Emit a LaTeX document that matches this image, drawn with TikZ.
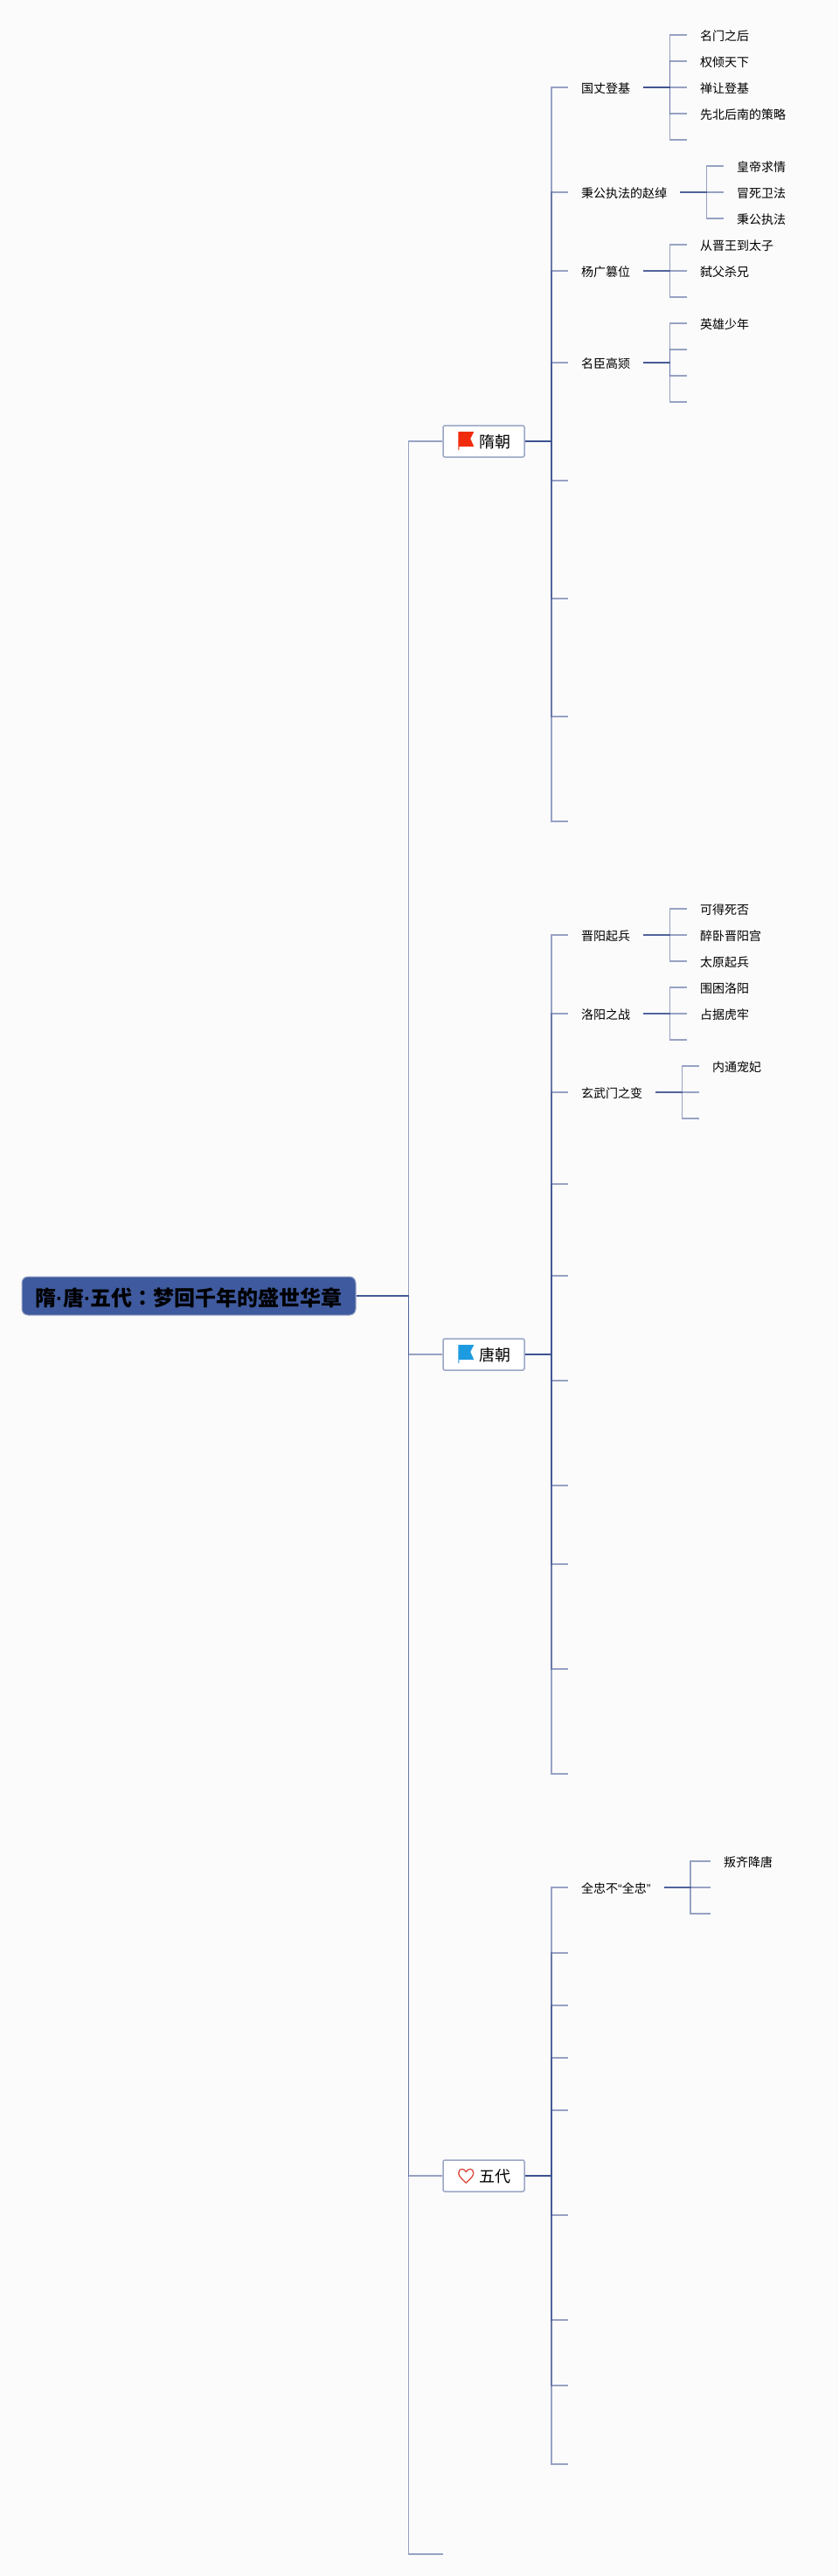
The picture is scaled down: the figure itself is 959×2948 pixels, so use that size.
\documentclass[tikz,border=0pt]{standalone}
\usepackage{fontspec}
\setmainfont{Noto Sans CJK SC}
\newfontfamily\tcfont{Noto Sans CJK TC}
\newfontfamily\latfont{Liberation Sans}
\usetikzlibrary{positioning}

\definecolor{paper}{HTML}{FBFBFC}
\definecolor{linkblue}{HTML}{3D5290}
\definecolor{rootblue}{HTML}{3F5A9E}
\definecolor{edgeblue}{HTML}{9AA6C6}
\definecolor{flagred}{HTML}{F02C0E}
\definecolor{flagblue}{HTML}{1E9BE0}
\definecolor{heartred}{HTML}{D9483B}

\begin{document}
\begin{tikzpicture}[
    x=1pt, y=-1pt,
    link/.style={linkblue, line width=1.8pt, opacity=0.52}, % overlapping runs get darker
    elbow/.style={to path={-- ++(#1,0) |- (\tikztotarget)}},
    rootbox/.style={fill=rootblue, draw=edgeblue, line width=1pt, rounded corners=7pt,
        minimum width=382pt, minimum height=44pt, inner sep=0pt, text height=24pt, text depth=2pt,
        font=\fontsize{24}{24}\selectfont\bfseries},
    erabox/.style={fill=white, draw=edgeblue, line width=1.5pt, rounded corners=2pt,
        minimum width=93pt, minimum height=36pt, inner sep=0pt, text height=17pt, text depth=2.2pt,
        font=\fontsize{18}{18}\selectfont},
    topic/.style={anchor=west, inner xsep=15pt, inner ysep=0pt, text height=14pt, text depth=1.4pt,
        font=\fontsize{14}{14}\selectfont},
    flagicon/.pic={\fill[#1] (18,-11) -- (36,-11) -- (32,-3) -- (36,6) -- (19,6) -- (19,10) -- (18,10) -- cycle;},
    hearticon/.pic={\draw[heartred, line width=1.3pt] (27,8) .. controls (20,2) and (18.5,-1) .. (18.5,-3)
        .. controls (18.5,-9) and (25,-9) .. (27,-4.5) .. controls (29,-9) and (35.5,-9) .. (35.5,-3)
        .. controls (35.5,-1) and (34,2) .. (27,8) -- cycle;}
]

    % Page
    \fill[paper] (0,0) rectangle (959,2948);
    \useasboundingbox (0,0) rectangle (959,2948);

    % Root and the three eras
    \node[rootbox] (root) at (216,1483) {隋{\latfont\bfseries ·}唐{\latfont\bfseries ·}五代{\tcfont\bfseries ：}梦回千年的盛世华章};
    \node[erabox] (sui) at (553.5,505) {\hspace*{26pt}隋朝};
    \node[erabox] (tang) at (553.5,1550) {\hspace*{26pt}唐朝};
    \node[erabox] (wudai) at (553.5,2490) {\hspace*{26pt}五代};
    \coordinate (rootend) at (507,2923); % Empty last branch

    \pic at (sui.west) {flagicon=flagred};
    \pic at (tang.west) {flagicon=flagblue};
    \pic at (wudai.west) {hearticon};

    % Sui topics
    \node[topic] (guozhang) at (650,100) {国丈登基};
    \node[topic] (binggong) at (650,220) {秉公执法的赵绰};
    \node[topic] (yangguang) at (650,310) {杨广篡位};
    \node[topic] (gaojiong) at (650,415) {名臣高颎};
    \coordinate (sui5) at (650,550);
    \coordinate (sui6) at (650,685);
    \coordinate (sui7) at (650,820);
    \coordinate (sui8) at (650,940);

    % Sui subtopics
    \node[topic] (gz1) at (786,40) {名门之后};
    \node[topic] (gz2) at (786,70) {权倾天下};
    \node[topic] (gz3) at (786,100) {禅让登基};
    \node[topic] (gz4) at (786,130) {先北后南的策略};
    \coordinate (gz5) at (786,160);
    \node[topic] (bg1) at (828,190) {皇帝求情};
    \node[topic] (bg2) at (828,220) {冒死卫法};
    \node[topic] (bg3) at (828,250) {秉公执法};
    \node[topic] (yg1) at (786,280) {从晋王到太子};
    \node[topic] (yg2) at (786,310) {弑父杀兄};
    \coordinate (yg3) at (786,340);
    \node[topic] (gj1) at (786,370) {英雄少年};
    \coordinate (gj2) at (786,400);
    \coordinate (gj3) at (786,430);
    \coordinate (gj4) at (786,460);

    % Tang topics
    \node[topic] (jinyang) at (650,1070) {晋阳起兵};
    \node[topic] (luoyang) at (650,1160) {洛阳之战};
    \node[topic] (xuanwu) at (650,1250) {玄武门之变};
    \coordinate (tang4) at (650,1355);
    \coordinate (tang5) at (650,1460);
    \coordinate (tang6) at (650,1580);
    \coordinate (tang7) at (650,1700);
    \coordinate (tang8) at (650,1790);
    \coordinate (tang9) at (650,1910);
    \coordinate (tang10) at (650,2030);

    % Tang subtopics
    \node[topic] (jy1) at (786,1040) {可得死否};
    \node[topic] (jy2) at (786,1070) {醉卧晋阳宫};
    \node[topic] (jy3) at (786,1100) {太原起兵};
    \node[topic] (ly1) at (786,1130) {围困洛阳};
    \node[topic] (ly2) at (786,1160) {占据虎牢};
    \coordinate (ly3) at (786,1190);
    \node[topic] (xw1) at (800,1220) {内通宠妃};
    \coordinate (xw2) at (800,1250);
    \coordinate (xw3) at (800,1280);

    % Wudai topics
    \node[topic] (quanzhong) at (650,2160) {全忠不{\latfont “}全忠{\latfont ”}};
    \coordinate (wu2) at (650,2235);
    \coordinate (wu3) at (650,2295);
    \coordinate (wu4) at (650,2355);
    \coordinate (wu5) at (650,2415);
    \coordinate (wu6) at (650,2535);
    \coordinate (wu7) at (650,2655);
    \coordinate (wu8) at (650,2730);
    \coordinate (wu9) at (650,2820);

    % Wudai subtopics
    \node[topic] (qz1) at (813,2130) {叛齐降唐};
    \coordinate (qz2) at (813,2160);
    \coordinate (qz3) at (813,2190);

    % Connectors
    \foreach \t in {sui.west, tang.west, wudai.west, rootend}
        \draw[link] (root.east) to[elbow=60] (\t);
    \foreach \t in {guozhang.west, binggong.west, yangguang.west, gaojiong.west, sui5, sui6, sui7, sui8}
        \draw[link] (sui.east) to[elbow=30] (\t);
    \foreach \t in {jinyang.west, luoyang.west, xuanwu.west, tang4, tang5, tang6, tang7, tang8, tang9, tang10}
        \draw[link] (tang.east) to[elbow=30] (\t);
    \foreach \t in {quanzhong.west, wu2, wu3, wu4, wu5, wu6, wu7, wu8, wu9}
        \draw[link] (wudai.east) to[elbow=30] (\t);
    \foreach \t in {gz1.west, gz2.west, gz3.west, gz4.west, gz5}
        \draw[link] (guozhang.east) to[elbow=30] (\t);
    \foreach \t in {bg1.west, bg2.west, bg3.west}
        \draw[link] (binggong.east) to[elbow=30] (\t);
    \foreach \t in {yg1.west, yg2.west, yg3}
        \draw[link] (yangguang.east) to[elbow=30] (\t);
    \foreach \t in {gj1.west, gj2, gj3, gj4}
        \draw[link] (gaojiong.east) to[elbow=30] (\t);
    \foreach \t in {jy1.west, jy2.west, jy3.west}
        \draw[link] (jinyang.east) to[elbow=30] (\t);
    \foreach \t in {ly1.west, ly2.west, ly3}
        \draw[link] (luoyang.east) to[elbow=30] (\t);
    \foreach \t in {xw1.west, xw2, xw3}
        \draw[link] (xuanwu.east) to[elbow=30] (\t);
    \foreach \t in {qz1.west, qz2, qz3}
        \draw[link] (quanzhong.east) to[elbow=30] (\t);

\end{tikzpicture}
\end{document}
